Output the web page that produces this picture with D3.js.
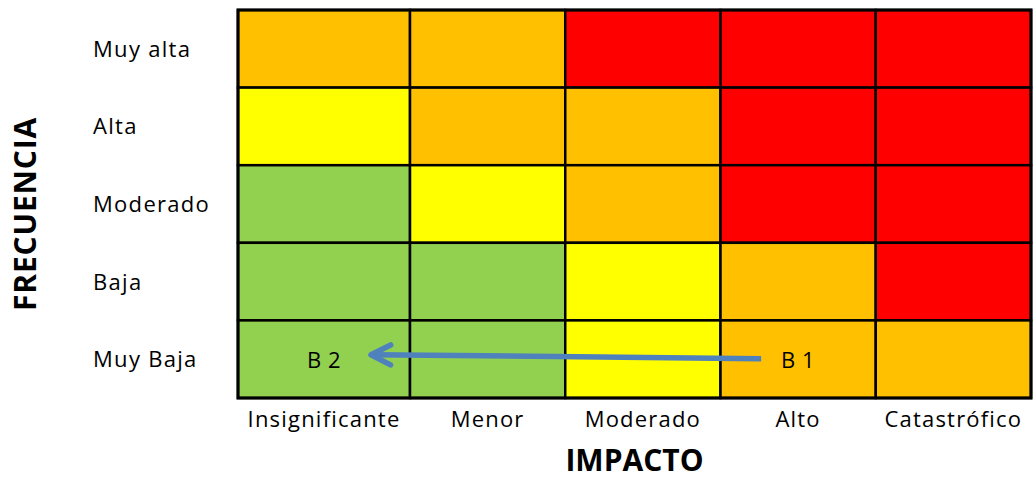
<!DOCTYPE html>
<html>
<head>
<meta charset="utf-8">
<script src="https://cdn.jsdelivr.net/npm/d3@7"></script>
<style>
  html, body { margin: 0; padding: 0; background: #fff; }
  svg { display: block; }
  text { font-family: "Open Sans", "Noto Sans", sans-serif; fill: #000; }
</style>
</head>
<body>
<svg id="chart" width="1034" height="479"></svg>
<script>
// ---- data ----
const impacto = ["Insignificante", "Menor", "Moderado", "Alto", "Catastrófico"];
const frecuencia = ["Muy alta", "Alta", "Moderado", "Baja", "Muy Baja"];
// risk level per frecuencia row (1 = bajo, 2 = medio, 3 = alto, 4 = extremo)
const nivelMuyAlta = [3, 3, 4, 4, 4];
const nivelAlta    = [2, 3, 3, 4, 4];
const nivelModerado= [1, 2, 3, 4, 4];
const nivelBaja    = [1, 1, 2, 3, 4];
const nivelMuyBaja = [1, 1, 2, 3, 3];
const niveles = [1, 2, 3, 4];
const colores = ["#92D050", "#FFFF00", "#FFC000", "#FF0000"];
const puntoId = ["B 1", "B 2"];
const puntoImpacto = ["Alto", "Insignificante"];
const puntoFrecuencia = ["Muy Baja", "Muy Baja"];
const ejeX = "IMPACTO";
const ejeY = "FRECUENCIA";

// ---- layout ----
const svg = d3.select("#chart");
const matriz = [nivelMuyAlta, nivelAlta, nivelModerado, nivelBaja, nivelMuyBaja];

const colIdx = d3.scaleOrdinal().domain(impacto).range(d3.range(impacto.length));
const xEdge = d3.scaleLinear().domain([0, 1, impacto.length]).range([238, 410, 1031]);
const xLeft = c => xEdge(colIdx(c));
const xRight = c => xEdge(colIdx(c) + 1);
const xMid = c => (xLeft(c) + xRight(c)) / 2;

const y = d3.scaleBand().domain(frecuencia).range([10, 398]);
const color = d3.scaleOrdinal().domain(niveles).range(colores);

const cells = [];
frecuencia.forEach((f, i) => impacto.forEach((c, j) => cells.push({f, c, v: matriz[i][j]})));

svg.append("g").selectAll("rect").data(cells).join("rect")
  .attr("x", d => xLeft(d.c))
  .attr("y", d => y(d.f))
  .attr("width", d => xRight(d.c) - xLeft(d.c))
  .attr("height", y.bandwidth())
  .attr("fill", d => color(d.v))
  .attr("stroke", "#000")
  .attr("stroke-width", 2.5);

// outer border
svg.append("rect")
  .attr("x", xEdge(0)).attr("y", y.range()[0])
  .attr("width", xEdge(impacto.length) - xEdge(0))
  .attr("height", y.range()[1] - y.range()[0])
  .attr("fill", "none").attr("stroke", "#000").attr("stroke-width", 3);

// row labels
svg.append("g").selectAll("text").data(frecuencia).join("text")
  .attr("x", 93)
  .attr("y", d => y(d) + y.bandwidth() / 2 + 8)
  .attr("font-size", 22)
  .attr("letter-spacing", 1.3)
  .text(d => d);

// column labels
svg.append("g").selectAll("text").data(impacto).join("text")
  .attr("x", d => xMid(d))
  .attr("y", 427)
  .attr("text-anchor", "middle")
  .attr("font-size", 22)
  .attr("letter-spacing", 1.2)
  .text(d => d);

// axis titles
svg.append("text")
  .attr("x", (xEdge(0) + xEdge(impacto.length)) / 2)
  .attr("y", 471)
  .attr("text-anchor", "middle")
  .attr("font-size", 30)
  .attr("font-weight", "bold")
  .text(ejeX);

svg.append("text")
  .attr("transform", "translate(36," + ((y.range()[0] + y.range()[1]) / 2 + 10) + ") rotate(-90)")
  .attr("text-anchor", "middle")
  .attr("font-size", 30)
  .attr("font-weight", "bold")
  .attr("letter-spacing", 0.8)
  .text(ejeY);

// points
const puntos = puntoId.map((id, i) => ({id, c: puntoImpacto[i], f: puntoFrecuencia[i]}));
svg.append("g").selectAll("text").data(puntos).join("text")
  .attr("x", d => xMid(d.c))
  .attr("y", d => y(d.f) + y.bandwidth() / 2 + 9)
  .attr("text-anchor", "middle")
  .attr("font-size", 22)
  .attr("letter-spacing", 0.5)
  .text(d => d.id);

// arrow from B 1 to B 2
const p1 = puntos[0], p2 = puntos[1];
const x0 = xMid(p1.c) - 37, y0 = y(p1.f) + y.bandwidth() / 2 - 0.5;
const x1 = xMid(p2.c) + 47, y1 = y(p2.f) + y.bandwidth() / 2 - 4.5;
const blue = "#4F81BD";
svg.append("line")
  .attr("x1", x0).attr("y1", y0).attr("x2", x1 + 2).attr("y2", y1)
  .attr("stroke", blue).attr("stroke-width", 5.5);
const ang = Math.atan2(y0 - y1, x0 - x1);
const L = 22, a = 0.47;
const wing = s => [x1 + L * Math.cos(ang + s * a), y1 + L * Math.sin(ang + s * a)];
svg.append("path")
  .attr("d", d3.line()([wing(1), [x1, y1], wing(-1)]))
  .attr("fill", "none").attr("stroke", blue).attr("stroke-width", 5.5)
  .attr("stroke-linecap", "round").attr("stroke-linejoin", "round");
</script>
</body>
</html>
